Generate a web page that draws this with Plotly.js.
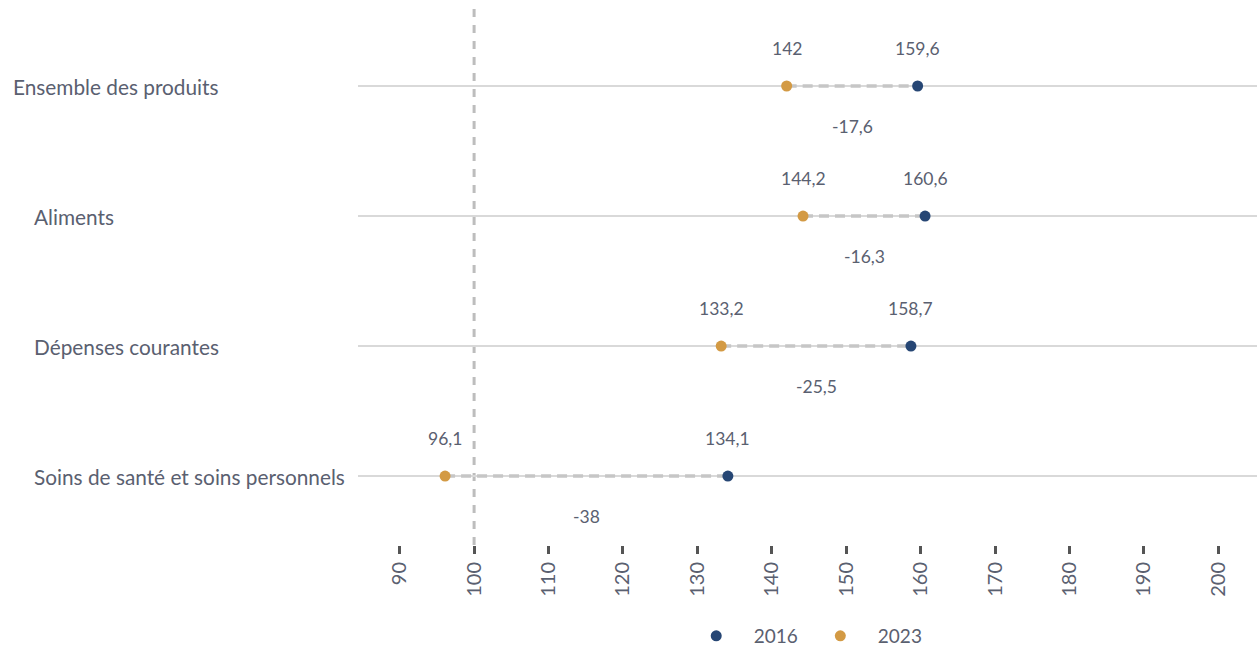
<!DOCTYPE html>
<html><head><meta charset="utf-8">
<script src="https://cdn.plot.ly/plotly-3.0.1.min.js"></script>
<style>body{margin:0;}#c{width:1257px;height:647px;}</style>
</head><body><div id="c"></div>
<script>
const categories = ["Ensemble des produits","Aliments","Dépenses courantes","Soins de santé et soins personnels"];
const labelX = [11, 32, 32, 32];
const values2016 = [159.6, 160.6, 158.7, 134.1];
const values2023 = [142, 144.2, 133.2, 96.1];
const diffs = [-17.6, -16.3, -25.5, -38];
const tickVals = [90,100,110,120,130,140,150,160,170,180,190,200];

const C16 = "#264674", C23 = "#d39a44", TXT = "#5a6070";
const fmt = v => String(v).replace(".", ",");
const yIdx = categories.map((c,i)=>i);

const traces = [];
categories.forEach((c,i)=>{
  traces.push({x:[values2023[i], values2016[i]], y:[i,i], mode:"lines", showlegend:false, hoverinfo:"skip",
    line:{color:"#c6c6c6", width:3.5, dash:"10px,6px"}});
});
traces.push({x:values2016, y:yIdx, mode:"markers", name:"2016", marker:{color:C16, size:11}});
traces.push({x:values2023, y:yIdx, mode:"markers", name:"2023", marker:{color:C23, size:11}});

const L = 358, W = 1257-358;
const annotations = [];
categories.forEach((c,i)=>{
  annotations.push({x:(labelX[i]-L)/W, xref:"paper", y:i, yref:"y", text:c, showarrow:false, xanchor:"left",
    font:{size:20.8, color:TXT}});
  annotations.push({x:values2016[i], y:i, text:fmt(values2016[i]), showarrow:false, yshift:38, font:{size:17.5,color:TXT}});
  annotations.push({x:values2023[i], y:i, text:fmt(values2023[i]), showarrow:false, yshift:38, font:{size:17.5,color:TXT}});
  annotations.push({x:(values2016[i]+values2023[i])/2, y:i, text:fmt(diffs[i]), showarrow:false, yshift:-40, font:{size:17.5,color:TXT}});
});

const layout = {
  width:1257, height:647,
  margin:{l:L, r:0, t:8, b:102},
  paper_bgcolor:"#fff", plot_bgcolor:"#fff",
  font:{family:"Lato, 'Noto Sans', sans-serif", color:TXT},
  xaxis:{range:[84.4,205.2], tickvals:tickVals, ticktext:tickVals.map(String), tickangle:-90,
    showgrid:false, zeroline:false, showline:false, ticks:"outside", ticklen:8, tickwidth:2.5, tickcolor:"#555",
    tickfont:{size:20, color:TXT}},
  yaxis:{range:[3.53,-0.6], showticklabels:false, showgrid:true, gridcolor:"#d9d9d9", gridwidth:1.5,
    zeroline:false, tickvals:yIdx, ticks:""},
  shapes:[{type:"line", xref:"x", yref:"paper", x0:100, x1:100, y0:0, y1:1,
    line:{color:"#bdbdbd", width:3, dash:"8px,8px"}, layer:"below"}],
  annotations: annotations,
  showlegend:true,
  legend:{orientation:"h", x:0.639, xanchor:"center", xref:"container", y:0.017, yanchor:"middle", yref:"container",
    itemwidth:65, font:{size:19, color:TXT}}
};
Plotly.newPlot("c", traces, layout, {displayModeBar:false});
</script></body></html>
